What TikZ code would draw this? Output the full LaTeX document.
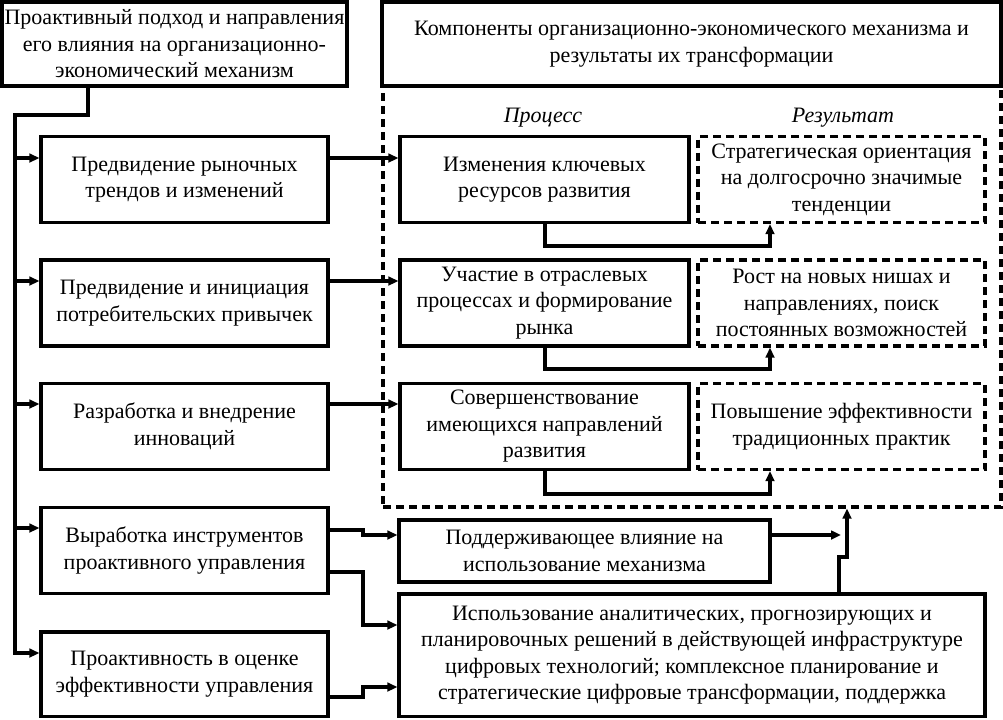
\documentclass[tikz,border=0pt]{standalone}
\usepackage{fontspec}
\setmainfont{Liberation Serif}
\usetikzlibrary{arrows.meta}
\newcommand\fs{\fontsize{16.5}{19.9}\selectfont}
\begin{document}
\begin{tikzpicture}[x=0.75pt,y=-0.75pt,
  bw/.style={minimum width=#1*0.75pt},
  bh/.style={minimum height=#1*0.75pt},
  box/.style={draw, line width=2.4pt, align=center, inner sep=0pt, font=\fs},
  dbox/.style={box, dash pattern=on 6pt off 3.75pt},
  ln/.style={line width=2.4pt},
  conn/.style={ln, -{Triangle[length=7.5pt,width=6.5pt]}},
  lab/.style={font=\fs\itshape, inner sep=0pt}]
\useasboundingbox (0,0) rectangle (1003,719);
% container
\node[dbox, bw=618, bh=421] (cont) at (692,296.5) {};
% header boxes
\node[box, bw=345, bh=84] (tl) at (174.5,44) {Проактивный подход и направления\\его влияния на организационно-\\экономический механизм};
\node[box, bw=619, bh=84] (tr) at (691.5,44) {Компоненты организационно-экономического механизма и\\результаты их трансформации};
\node[lab] (lp) at (543,118) {Процесс};
\node[lab] (lr) at (843,118) {Результат};
% left column
\node[box, bw=287, bh=86] (l1) at (184.5,179.5) {Предвидение рыночных\\трендов и изменений};
\node[box, bw=287, bh=86] (l2) at (184.5,303) {Предвидение и инициация\\потребительских привычек};
\node[box, bw=287, bh=86] (l3) at (184.5,426.5) {Разработка и внедрение\\инноваций};
\node[box, bw=287, bh=86] (l4) at (184.5,550.5) {Выработка инструментов\\проактивного управления};
\node[box, bw=287, bh=84.5] (l5) at (184.5,674.25) {Проактивность в оценке\\эффективности управления};
% process column
\node[box, bw=289, bh=86] (p1) at (544.5,179.5) {Изменения ключевых\\ресурсов развития};
\node[box, bw=289, bh=86] (p2) at (544.5,303) {Участие в отраслевых\\процессах и формирование\\рынка};
\node[box, bw=289, bh=86] (p3) at (544.5,426.5) {Совершенствование\\имеющихся направлений\\развития};
% result column
\node[dbox, bw=287, bh=86] (r1) at (841.5,179.5) {Стратегическая ориентация\\на долгосрочно значимые\\тенденции};
\node[dbox, bw=287, bh=86] (r2) at (841.5,303) {Рост на новых нишах и\\направлениях, поиск\\постоянных возможностей};
\node[dbox, bw=287, bh=86] (r3) at (841.5,426.5) {Повышение эффективности\\традиционных практик};
% lower boxes
\node[box, bw=371, bh=62] (sup) at (584.5,551) {Поддерживающее влияние на\\использование механизма};
\node[box, bw=586, bh=122.5] (bot) at (692,655.25) {Использование аналитических, прогнозирующих и\\планировочных решений в действующей инфраструктуре\\цифровых технологий; комплексное планирование и\\стратегические цифровые трансформации, поддержка};
% trunk
\draw[conn] (tl.south -| 88,0) -- (88,115) -- (15,115) -- (15,653) -- (l5.west |- 0,653);
\draw[conn] (15,158) -- (l1.west |- 0,158);
\draw[conn] (15,281) -- (l2.west |- 0,281);
\draw[conn] (15,404) -- (l3.west |- 0,404);
\draw[conn] (15,528) -- (l4.west |- 0,528);
% left to process
\draw[conn] (l1.east |- 0,158) -- (p1.west |- 0,158);
\draw[conn] (l2.east |- 0,281) -- (p2.west |- 0,281);
\draw[conn] (l3.east |- 0,404) -- (p3.west |- 0,404);
% process to result
\draw[conn] (p1.south -| 545,0) -- (545,246) -- (770,246) -- (r1.south -| 770,0);
\draw[conn] (p2.south -| 545,0) -- (545,369) -- (770,369) -- (r2.south -| 770,0);
\draw[conn] (p3.south -| 545,0) -- (545,494) -- (770,494) -- (r3.south -| 770,0);
% lower connectors
\draw[conn] (l4.east |- 0,530) -- (363,530) -- (363,535) -- (sup.west |- 0,535);
\draw[conn] (l4.east |- 0,572) -- (363,572) -- (363,625) -- (bot.west |- 0,625);
\draw[conn] (l5.east |- 0,697) -- (363,697) -- (363,687) -- (bot.west |- 0,687);
\draw[conn] (sup.east |- 0,535) -- (841,535);
\draw[conn] (bot.north -| 839,0) -- (839,557) -- (847,557) -- (cont.south -| 847,0);
\end{tikzpicture}
\end{document}
